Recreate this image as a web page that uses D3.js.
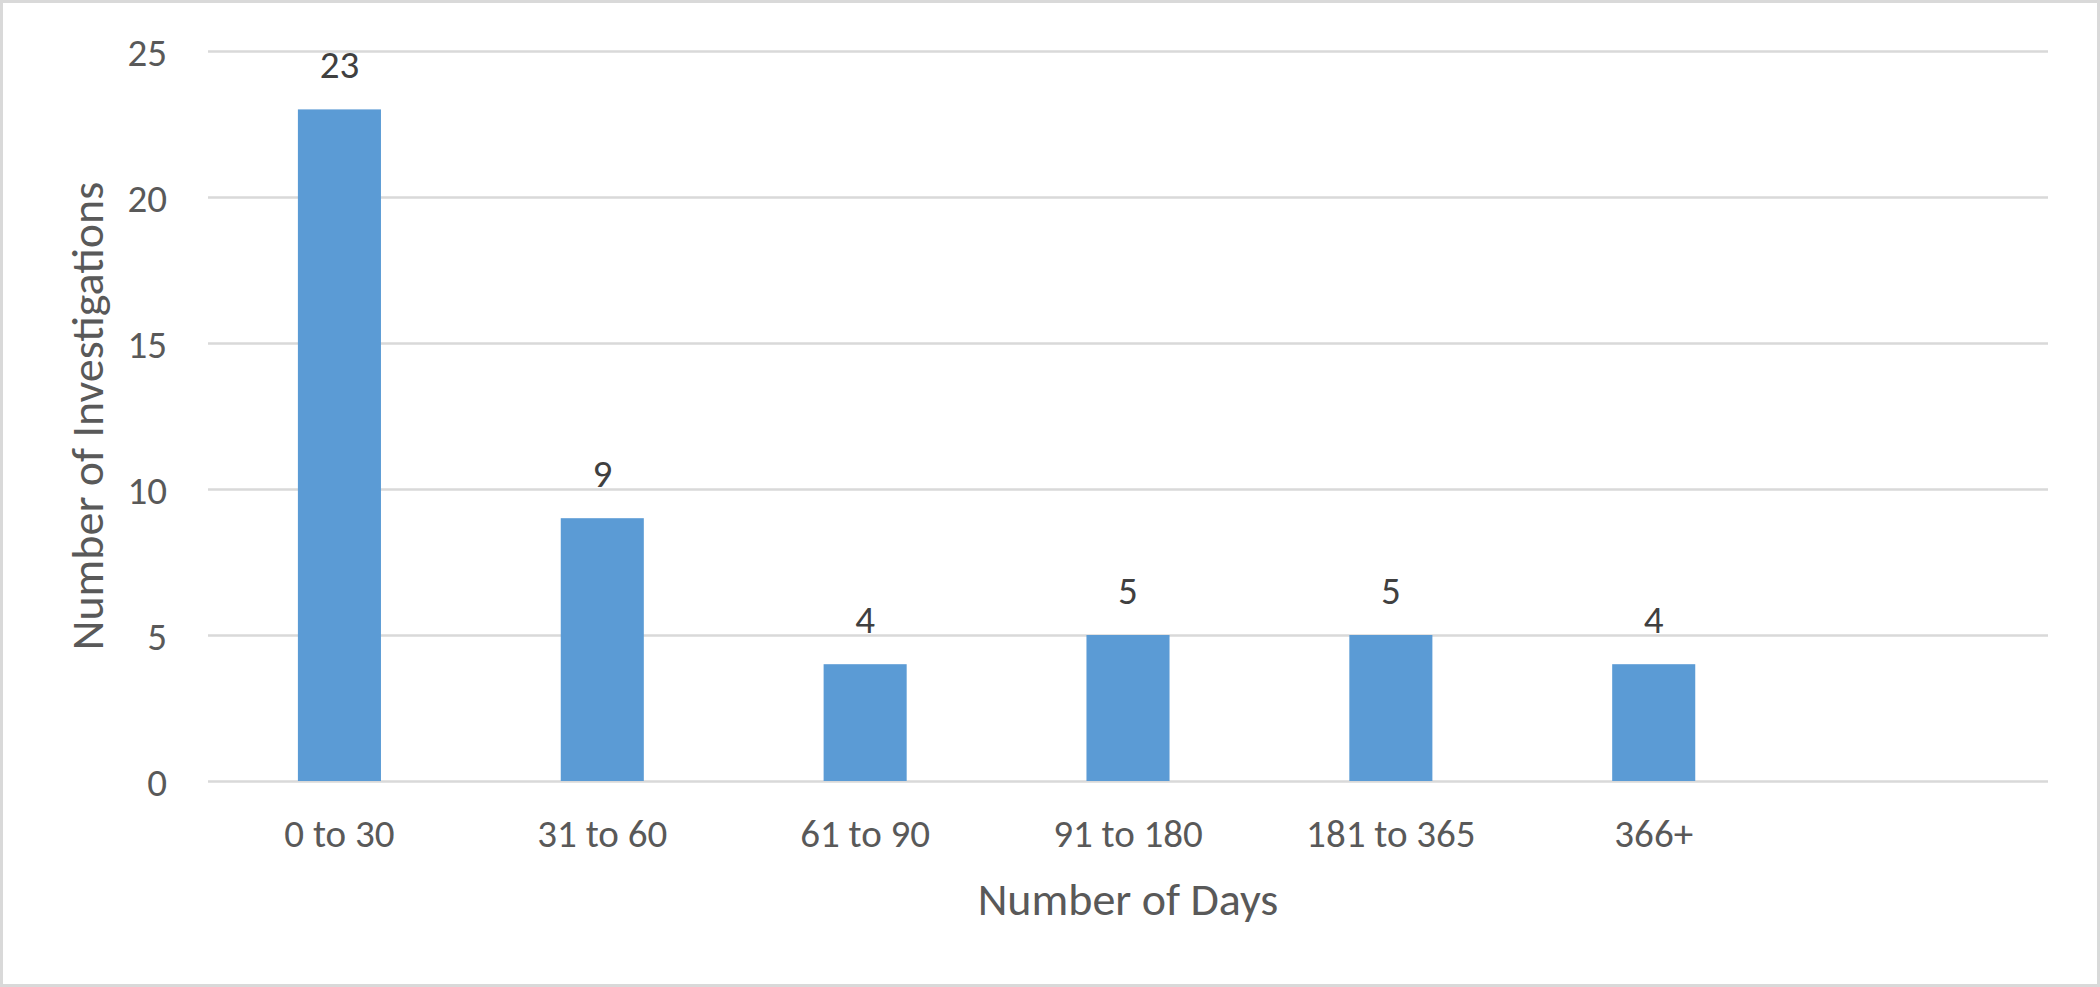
<!DOCTYPE html>
<html>
<head>
<meta charset="utf-8">
<script src="https://cdn.jsdelivr.net/npm/d3@7"></script>
<style>
  html, body { margin: 0; padding: 0; background: #fff; }
  svg { display: block; }
  text { font-family: Carlito, Calibri, Lato, sans-serif; }
</style>
</head>
<body>
<svg id="chart" width="2100" height="987"></svg>
<script>
const categories = ["0 to 30", "31 to 60", "61 to 90", "91 to 180", "181 to 365", "366+", ""];
const values = [23, 9, 4, 5, 5, 4, null];
const yTicks = [0, 5, 10, 15, 20, 25];
const xTitle = "Number of Days";
const yTitle = "Number of Investigations";

const W = 2100, H = 987;
const plot = { left: 208, right: 2048, top: 51, bottom: 781 };

const svg = d3.select("#chart");

svg.append("rect")
  .attr("x", 1.5).attr("y", 1.5)
  .attr("width", W - 3).attr("height", H - 3)
  .attr("fill", "#fff").attr("stroke", "#d9d9d9").attr("stroke-width", 3);

const x = d3.scaleBand()
  .domain(categories)
  .range([plot.left, plot.right])
  .paddingInner(0.684)
  .paddingOuter(0.342);

const y = d3.scaleLinear().domain([0, 25]).range([plot.bottom, plot.top]);

// gridlines
const yAxis = d3.axisLeft(y).tickValues(yTicks).tickSize(-(plot.right - plot.left)).tickPadding(41);
const gy = svg.append("g").attr("transform", `translate(${plot.left},0)`).call(yAxis);
gy.select(".domain").remove();
gy.selectAll(".tick line").attr("stroke", "#d9d9d9").attr("stroke-width", 2.7);
gy.selectAll(".tick text")
  .attr("fill", "#595959").attr("font-size", 39)
  .attr("dy", "0.36em");

// bars
const data = categories.map((c, i) => ({ c, v: values[i] })).filter(d => d.v != null);
svg.append("g").selectAll("rect").data(data).join("rect")
  .attr("x", d => x(d.c))
  .attr("width", x.bandwidth())
  .attr("y", d => y(d.v))
  .attr("height", d => y(0) - y(d.v))
  .attr("fill", "#5b9bd5");

// data labels
svg.append("g").selectAll("text").data(data).join("text")
  .attr("x", d => x(d.c) + x.bandwidth() / 2)
  .attr("y", d => y(d.v) - 31)
  .attr("text-anchor", "middle")
  .attr("fill", "#404040")
  .attr("font-size", 39)
  .text(d => d.v);

// x axis labels
const xAxis = d3.axisBottom(x).tickSize(0).tickPadding(0);
const gx = svg.append("g").attr("transform", `translate(0,${plot.bottom})`).call(xAxis);
gx.select(".domain").remove();
gx.selectAll(".tick text")
  .attr("fill", "#595959").attr("font-size", 39)
  .attr("y", 66).attr("dy", 0);

// axis titles
svg.append("text")
  .attr("x", (plot.left + plot.right) / 2)
  .attr("y", 915)
  .attr("text-anchor", "middle")
  .attr("fill", "#595959")
  .attr("font-size", 46)
  .text(xTitle);

svg.append("text")
  .attr("transform", `translate(103,${(plot.top + plot.bottom) / 2}) rotate(-90)`)
  .attr("text-anchor", "middle")
  .attr("fill", "#595959")
  .attr("font-size", 46)
  .text(yTitle);
</script>
</body>
</html>
